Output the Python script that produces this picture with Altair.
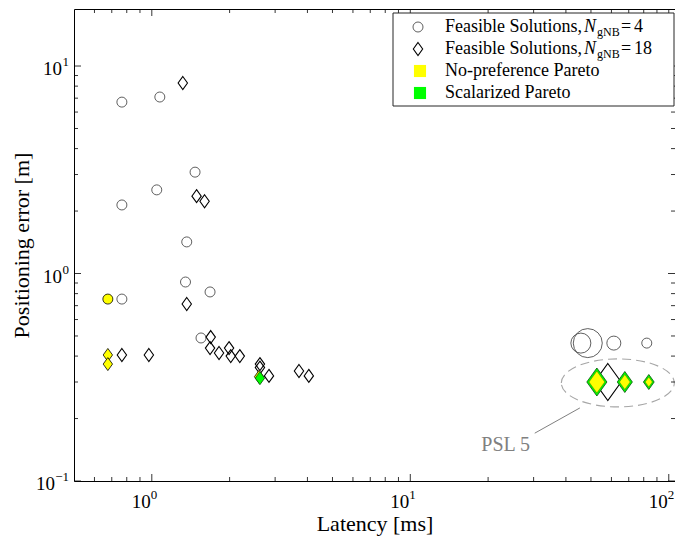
import altair as alt
import pandas as pd

# ---------------- data ----------------
# Feasible solutions, N_gNB = 4  (circles); ms = marker diameter
circ_x = [0.766, 1.074, 0.766, 1.045, 1.47, 1.365, 1.35, 1.68, 0.766, 1.55, 45.7, 48.6, 61.3, 82.2]
circ_y = [6.70, 7.09, 2.14, 2.53, 3.08, 1.42, 0.910, 0.815, 0.753, 0.489, 0.462, 0.462, 0.462, 0.462]
circ_ms = [10, 10, 10, 10, 10, 10, 10, 10, 10, 10, 20, 29, 14, 10]

# Feasible solutions, N_gNB = 18 (diamonds)
dia_x = [1.318, 1.49, 1.60, 1.365, 0.766, 0.974, 1.69, 1.68, 1.82, 1.99, 2.02, 2.19,
         2.62, 2.62, 2.84, 3.71, 4.05, 58.1]
dia_y = [8.28, 2.36, 2.23, 0.713, 0.405, 0.405, 0.494, 0.437, 0.414, 0.437, 0.400, 0.400,
         0.366, 0.352, 0.321, 0.339, 0.321, 0.300]
dia_ms = [13, 13, 13, 13, 13, 13, 13, 13, 13, 13, 13, 13, 13, 13, 13, 13, 13, 37]

# No-preference Pareto
np_circ_x = [0.676]
np_circ_y = [0.753]
np_x = [0.676, 0.676, 2.60, 52.7, 67.6, 83.7]
np_y = [0.405, 0.366, 0.318, 0.300, 0.300, 0.300]
np_ms = [13, 13, 13, 22, 15, 10]

# Scalarized Pareto
sc_x = [2.62, 52.7, 67.6, 83.7]
sc_y = [0.313, 0.300, 0.300, 0.300]
sc_ms = [13, 28, 21, 15]

# PSL 5 annotation
ell_x = [63.5]
ell_y = [0.297]
ann_line_x = [30.3, 45.3]
ann_line_y = [0.170, 0.225]
ann_text = ["PSL 5"]
ann_text_x = [23.4]
ann_text_y = [0.149]

# axis ticks
x_major = [1, 10, 100]
x_major_exp = ["0", "1", "2"]
y_major = [0.1, 1, 10]
y_major_exp = ["\u22121", "0", "1"]
x_minor = [0.6, 0.7, 0.8, 0.9, 2, 3, 4, 5, 6, 7, 8, 9, 20, 30, 40, 50, 60, 70, 80, 90]
y_minor = [0.2, 0.3, 0.4, 0.5, 0.6, 0.7, 0.8, 0.9, 2, 3, 4, 5, 6, 7, 8, 9]

legend_labels = ["Feasible Solutions, ", "Feasible Solutions, ", "No-preference Pareto", "Scalarized Pareto"]
legend_n = ["4", "18"]

# ---------------- layout ----------------
W, H = 601, 472
FONT = "Liberation Serif, DejaVu Serif, serif"
xs = alt.Scale(type="log", domain=[0.5, 105.7], nice=False, zero=False)
ys = alt.Scale(type="log", domain=[0.1, 18.83], nice=False, zero=False)
xaxis = alt.Axis(labels=False, ticks=False, domain=False, grid=False, titleFont=FONT,
                 titleFontSize=22, titleFontWeight="normal", titleColor="black", titlePadding=32)
yaxis = alt.Axis(labels=False, ticks=False, domain=False, grid=False, titleFont=FONT,
                 titleFontSize=22, titleFontWeight="normal", titleColor="black", titlePadding=41)
XT = "Latency [ms]"
YT = "Positioning error [m]"
sizescale = alt.Scale(type="pow", exponent=2, domain=[0, 10], range=[0, 100])

DIAMOND = "M 0 -1 L 0.72 0 L 0 1 L -0.72 0 Z"
ELLIPSE = ("M -1 0 C -1 -0.2347 -0.5523 -0.425 0 -0.425 C 0.5523 -0.425 1 -0.2347 1 0 "
           "C 1 0.2347 0.5523 0.425 0 0.425 C -0.5523 0.425 -1 0.2347 -1 0 Z")


def X(f):
    return alt.X(f, type="quantitative", scale=xs, axis=xaxis, title=XT)


def Y(f):
    return alt.Y(f, type="quantitative", scale=ys, axis=yaxis, title=YT)


def points(xv, yv, ms, shape, fill, stroke, sw, filt=None):
    df = pd.DataFrame({"x": xv, "y": yv, "ms": ms})
    c = alt.Chart(df)
    if filt:
        c = c.transform_filter(filt)
    return c.mark_point(shape=shape, fill=fill, stroke=stroke, strokeWidth=sw,
                        opacity=1, fillOpacity=1, strokeOpacity=1).encode(
        x=X("x"), y=Y("y"),
        size=alt.Size("ms:Q", scale=sizescale, legend=None))


one = pd.DataFrame({"k": [0]})


def txt(s, x, y, size=18, style="normal", color="black", align="left", baseline="middle"):
    return alt.Chart(one).mark_text(text=s, font=FONT, fontSize=size, fontStyle=style,
                                    color=color, align=align, baseline=baseline).encode(
        x=alt.value(x), y=alt.value(y))


def sym(shape, x, y, size, fill, stroke, sw):
    return alt.Chart(one).mark_point(shape=shape, size=size, fill=fill, stroke=stroke,
                                     strokeWidth=sw, opacity=1, fillOpacity=1).encode(
        x=alt.value(x), y=alt.value(y))


layers = []

# PSL 5 ellipse
ell = alt.Chart(pd.DataFrame({"x": ell_x, "y": ell_y})).mark_point(
    shape=ELLIPSE, size=12769, fill="transparent", stroke="#a6a6a6", strokeWidth=1.1,
    strokeDash=[9, 5], opacity=1).encode(x=X("x"), y=Y("y"))
layers.append(ell)

# data markers
layers.append(points(circ_x, circ_y, circ_ms, "circle", "transparent", "#4d4d4d", 0.9))
layers.append(points(dia_x, dia_y, dia_ms, DIAMOND, "transparent", "#000000", 1.1))
layers.append(points(np_x, np_y, np_ms, DIAMOND, "#ffff00", "#000000", 0.8, "datum.x < 10"))
layers.append(points(sc_x, sc_y, sc_ms, DIAMOND, "#00ff00", "#0a4d0a", 0.8))
layers.append(points(np_x, np_y, np_ms, DIAMOND, "#ffff00", "#3a7a00", 0.5, "datum.x >= 10"))
layers.append(points(np_circ_x, np_circ_y, [10], "circle", "#ffff00", "#000000", 0.8))

# annotation line + text
ann = pd.DataFrame({"x1": [ann_line_x[0]], "y1": [ann_line_y[0]],
                    "x2": [ann_line_x[1]], "y2": [ann_line_y[1]]})
layers.append(alt.Chart(ann).mark_rule(color="#808080", strokeWidth=1).encode(
    x=X("x1"), y=Y("y1"), x2="x2", y2="y2"))
layers.append(alt.Chart(pd.DataFrame({"x": ann_text_x, "y": ann_text_y, "t": ann_text}))
              .mark_text(font=FONT, fontSize=20, color="#808080", align="center", baseline="middle")
              .encode(x=X("x"), y=Y("y"), text="t:N"))

# inside ticks on all four sides
for vals, ln in [(x_major, 7), (x_minor, 4)]:
    d = pd.DataFrame({"v": vals})
    layers.append(alt.Chart(d).mark_rule(color="black", strokeWidth=0.8).encode(
        x=X("v"), y=alt.value(H), y2=alt.value(H - ln)))
    layers.append(alt.Chart(d).mark_rule(color="black", strokeWidth=0.8).encode(
        x=X("v"), y=alt.value(0), y2=alt.value(ln)))
for vals, ln in [(y_major, 7), (y_minor, 4)]:
    d = pd.DataFrame({"v": vals})
    layers.append(alt.Chart(d).mark_rule(color="black", strokeWidth=0.8).encode(
        y=Y("v"), x=alt.value(0), x2=alt.value(ln)))
    layers.append(alt.Chart(d).mark_rule(color="black", strokeWidth=0.8).encode(
        y=Y("v"), x=alt.value(W), x2=alt.value(W - ln)))

# tick labels  10^k
xl = pd.DataFrame({"v": x_major, "e": x_major_exp})
layers.append(alt.Chart(xl).mark_text(text="10", font=FONT, fontSize=19, align="right",
                                      baseline="alphabetic", dx=-1, color="black").encode(
    x=X("v"), y=alt.value(H + 27)))
layers.append(alt.Chart(xl).mark_text(font=FONT, fontSize=13, align="left",
                                      baseline="alphabetic", dx=-1, color="black").encode(
    x=X("v"), y=alt.value(H + 18), text="e:N"))
yl = pd.DataFrame({"v": y_major, "e": y_major_exp})
layers.append(alt.Chart(yl).mark_text(font=FONT, fontSize=13, align="right",
                                      baseline="alphabetic", color="black").encode(
    y=Y("v"), x=alt.value(-5), text="e:N"))
layers.append(alt.Chart(yl).transform_filter("length(datum.e) == 1").mark_text(
    text="10", font=FONT, fontSize=19, align="right", baseline="alphabetic", dy=9,
    color="black").encode(y=Y("v"), x=alt.value(-12)))
layers.append(alt.Chart(yl).transform_filter("length(datum.e) > 1").mark_text(
    text="10", font=FONT, fontSize=19, align="right", baseline="alphabetic", dy=9,
    color="black").encode(y=Y("v"), x=alt.value(-19)))

# legend box
layers.append(alt.Chart(one).mark_rect(fill="white", stroke="#262626", strokeWidth=1).encode(
    x=alt.value(319), x2=alt.value(W - 1), y=alt.value(4), y2=alt.value(97)))
rows = [18, 40, 62, 84]
layers.append(sym("circle", 344, rows[0], 100, "transparent", "#4d4d4d", 0.9))
layers.append(sym(DIAMOND, 344, rows[1], 169, "transparent", "#000000", 1.1))
layers.append(sym("square", 346, rows[2], 144, "#ffff00", "#ffff00", 0.1))
layers.append(sym("square", 346, rows[3], 144, "#00ff00", "#00ff00", 0.1))
for i in range(2):
    layers.append(txt(legend_labels[i], 371, rows[i]))
    layers.append(txt("N", 510, rows[i], style="italic"))
    layers.append(txt("gNB", 523, rows[i] + 5, size=12))
    layers.append(txt("=", 547, rows[i]))
    layers.append(txt(legend_n[i], 560, rows[i]))
layers.append(txt(legend_labels[2], 371, rows[2]))
layers.append(txt(legend_labels[3], 371, rows[3]))

chart = alt.layer(*layers).properties(
    width=W, height=H,
    autosize=alt.AutoSizeParams(type="none"),
    padding={"left": 66, "top": 1, "right": 0, "bottom": 55},
).configure_view(stroke="black", strokeWidth=1)

chart.save("out.html", embed_options={"renderer": "svg", "actions": False})
